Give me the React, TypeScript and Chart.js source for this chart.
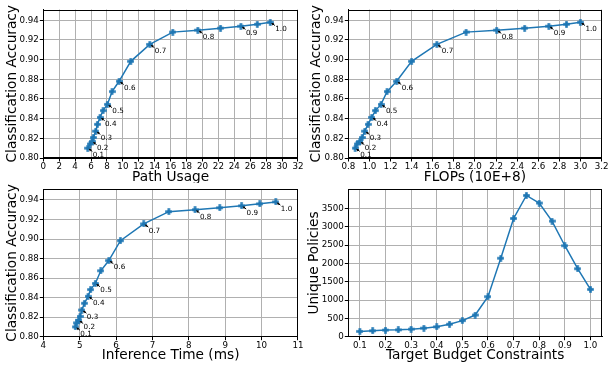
import React, { useEffect, useRef } from 'react';
import { Chart, registerables } from 'chart.js';
Chart.register(...registerables);

const budgets = [0.1, 0.15, 0.2, 0.25, 0.3, 0.35, 0.4, 0.45, 0.5, 0.55, 0.6, 0.65, 0.7, 0.75, 0.8, 0.85, 0.9, 0.95, 1.0];
const accuracy = [0.810, 0.8142, 0.8168, 0.8208, 0.8273, 0.8342, 0.8413, 0.8482, 0.8545, 0.8675, 0.878, 0.8983, 0.9155, 0.928, 0.930, 0.932, 0.934, 0.936, 0.938];
const pathUsage = [5.58, 5.87, 6.12, 6.29, 6.59, 6.80, 7.13, 7.51, 8.05, 8.64, 9.52, 10.99, 13.38, 16.27, 19.42, 22.27, 24.83, 26.89, 28.52];
const flops = [0.865, 0.883, 0.909, 0.931, 0.956, 0.987, 1.022, 1.057, 1.110, 1.167, 1.258, 1.400, 1.639, 1.916, 2.206, 2.471, 2.700, 2.867, 2.999];
const inferenceTime = [4.88, 4.92, 4.97, 5.01, 5.06, 5.13, 5.23, 5.30, 5.43, 5.58, 5.80, 6.12, 6.76, 7.45, 8.17, 8.85, 9.45, 9.95, 10.39];
const uniquePolicies = [144, 162, 180, 188, 206, 233, 269, 341, 440, 592, 1095, 2145, 3231, 3859, 3653, 3159, 2486, 1858, 1292];

const annotationLabels = ['0.1', '0.2', '0.3', '0.4', '0.5', '0.6', '0.7', '0.8', '0.9', '1.0'];
const annotationIndices = [0, 2, 4, 6, 8, 10, 12, 14, 16, 18];

const pathTicks = [0, 2, 4, 6, 8, 10, 12, 14, 16, 18, 20, 22, 24, 26, 28, 30, 32];
const flopsTicks = [0.8, 1.0, 1.2, 1.4, 1.6, 1.8, 2.0, 2.2, 2.4, 2.6, 2.8, 3.0, 3.2];
const timeTicks = [4, 5, 6, 7, 8, 9, 10, 11];
const budgetTicks = [0.1, 0.2, 0.3, 0.4, 0.5, 0.6, 0.7, 0.8, 0.9, 1.0];
const accTicks = [0.80, 0.82, 0.84, 0.86, 0.88, 0.90, 0.92, 0.94];
const policyTicks = [0, 500, 1000, 1500, 2000, 2500, 3000, 3500];

const FONT = 'DejaVu Sans';
const BLUE = '#1f77b4';

function makeMarker() {
  const c = document.createElement('canvas');
  c.width = 7;
  c.height = 7;
  const g = c.getContext('2d')!;
  g.fillStyle = BLUE;
  g.fillRect(2.2, 0.2, 2.6, 6.6);
  g.fillRect(0.2, 2.2, 6.6, 2.6);
  return c;
}

const framePlugin = {
  id: 'frame',
  afterDatasetsDraw(chart: any) {
    const { ctx, chartArea } = chart;
    ctx.save();
    ctx.strokeStyle = '#000';
    ctx.lineWidth = 1;
    const l = Math.round(chartArea.left) + 0.5;
    const r = Math.round(chartArea.right) - 0.5;
    const t = Math.round(chartArea.top) + 0.5;
    const b = Math.round(chartArea.bottom) - 0.5;
    ctx.strokeRect(l, t, r - l, b - t);
    ctx.restore();
  },
};

const annPlugin = {
  id: 'ann',
  afterDraw(chart: any, _args: any, opts: any) {
    if (!opts || !opts.show) return;
    const meta = chart.getDatasetMeta(0);
    const ctx = chart.ctx;
    ctx.save();
    ctx.fillStyle = '#000';
    ctx.strokeStyle = '#000';
    ctx.lineWidth = 1;
    ctx.font = `7.2px "${FONT}"`;
    ctx.textBaseline = 'middle';
    ctx.textAlign = 'left';
    annotationIndices.forEach((idx, i) => {
      const el = meta.data[idx];
      const x = el.x;
      const y = el.y;
      const x0 = x + 4.6, y0 = y + 3.2;
      const x1 = x + 1.0, y1 = y + 0.6;
      const dx = x1 - x0, dy = y1 - y0;
      const len = Math.hypot(dx, dy);
      const ux = dx / len, uy = dy / len;
      const hl = 2.6, hw = 1.4;
      ctx.beginPath();
      ctx.moveTo(x0, y0);
      ctx.lineTo(x1 - ux * hl * 0.6, y1 - uy * hl * 0.6);
      ctx.stroke();
      ctx.beginPath();
      ctx.moveTo(x1, y1);
      ctx.lineTo(x1 - ux * hl - uy * hw, y1 - uy * hl + ux * hw);
      ctx.lineTo(x1 - ux * hl + uy * hw, y1 - uy * hl - ux * hw);
      ctx.closePath();
      ctx.fill();
      ctx.fillText(annotationLabels[i], x + 5, y + 7);
    });
    ctx.restore();
  },
};

type PanelProps = {
  left: number; top: number; width: number; height: number;
  padTop: number; padRight: number; yW: number; xH: number;
  xs: number[]; ys: number[];
  xMin: number; xMax: number; xTicks: number[]; xDec: number;
  yMin: number; yMax: number; yTicks: number[]; yDec: number;
  xTitle: string; yTitle: string; xTitlePad: number; yTitlePad: number;
  annotate: boolean;
};

function Panel(p: PanelProps) {
  const ref = useRef<HTMLCanvasElement>(null);
  useEffect(() => {
    const tickFont = { family: FONT, size: 8.7 };
    const titleFont = { family: FONT, size: 13.7, lineHeight: 1 };
    const grid = { color: '#b0b0b0', lineWidth: 1, tickLength: 3.5, tickColor: '#000', drawTicks: true };
    const border = { display: true, color: '#000', width: 1 };
    const chart = new Chart(ref.current!, {
      type: 'scatter',
      data: {
        datasets: [{
          data: p.xs.map((x, i) => ({ x, y: p.ys[i] })),
          showLine: true,
          borderColor: BLUE,
          backgroundColor: BLUE,
          borderWidth: 1.5,
          pointStyle: makeMarker() as any,
          pointRadius: 3.5,
          tension: 0,
        }],
      },
      options: {
        animation: false,
        responsive: false,
        devicePixelRatio: 1,
        layout: { padding: { top: p.padTop, right: p.padRight, left: 0, bottom: 0 } },
        plugins: {
          legend: { display: false },
          tooltip: { enabled: false },
          ann: { show: p.annotate },
        } as any,
        scales: {
          x: {
            type: 'linear',
            min: p.xMin,
            max: p.xMax,
            afterBuildTicks: (s: any) => { s.ticks = p.xTicks.map((v) => ({ value: v })); },
            afterFit: (s: any) => { s.height = p.xH; },
            ticks: {
              font: tickFont, color: '#000', padding: 0.5, autoSkip: false, maxRotation: 0, minRotation: 0,
              callback: (v: any) => Number(v).toFixed(p.xDec),
            },
            grid, border,
            title: { display: true, text: p.xTitle, font: titleFont, color: '#000', padding: { top: 0, bottom: p.xTitlePad } },
          },
          y: {
            type: 'linear',
            min: p.yMin,
            max: p.yMax,
            afterBuildTicks: (s: any) => { s.ticks = p.yTicks.map((v) => ({ value: v })); },
            afterFit: (s: any) => { s.width = p.yW; },
            ticks: {
              font: tickFont, color: '#000', padding: 1, autoSkip: false,
              callback: (v: any) => Number(v).toFixed(p.yDec),
            },
            grid, border,
            title: { display: true, text: p.yTitle, font: titleFont, color: '#000', padding: { top: p.yTitlePad, bottom: 0 } },
          },
        },
      },
      plugins: [framePlugin, annPlugin],
    } as any);
    return () => chart.destroy();
  }, []);
  return (
    <canvas
      ref={ref}
      width={p.width}
      height={p.height}
      style={{ position: 'absolute', left: p.left, top: p.top, width: p.width, height: p.height }}
    />
  );
}

export default function App() {
  return (
    <div style={{ position: 'fixed', left: 0, top: 0, width: 609, height: 366, background: '#fff', overflow: 'hidden' }}>
      <Panel left={0} top={0} width={304} height={183} padTop={9.5} padRight={6} yW={43.3} xH={25}
        xs={pathUsage} ys={accuracy} xMin={0} xMax={32} xTicks={pathTicks} xDec={0}
        yMin={0.8} yMax={0.951} yTicks={accTicks} yDec={2}
        xTitle="Path Usage" yTitle="Classification Accuracy" xTitlePad={-1.5} yTitlePad={5.9} annotate={true} />
      <Panel left={304} top={0} width={305} height={183} padTop={9.5} padRight={7} yW={44.3} xH={25}
        xs={flops} ys={accuracy} xMin={0.8} xMax={3.2} xTicks={flopsTicks} xDec={1}
        yMin={0.8} yMax={0.951} yTicks={accTicks} yDec={2}
        xTitle="FLOPs (10E+8)" yTitle="Classification Accuracy" xTitlePad={-1.5} yTitlePad={5.9} annotate={true} />
      <Panel left={0} top={183} width={304} height={183} padTop={4} padRight={6} yW={43.3} xH={29.3}
        xs={inferenceTime} ys={accuracy} xMin={4} xMax={11} xTicks={timeTicks} xDec={0}
        yMin={0.8} yMax={0.951} yTicks={accTicks} yDec={2}
        xTitle="Inference Time (ms)" yTitle="Classification Accuracy" xTitlePad={4} yTitlePad={5.9} annotate={true} />
      <Panel left={304} top={183} width={305} height={183} padTop={4} padRight={7} yW={44.3} xH={29.3}
        xs={budgets} ys={uniquePolicies} xMin={0.055} xMax={1.045} xTicks={budgetTicks} xDec={1}
        yMin={0} yMax={4030} yTicks={policyTicks} yDec={0}
        xTitle="Target Budget Constraints" yTitle="Unique Policies" xTitlePad={4} yTitlePad={3.6} annotate={false} />
    </div>
  );
}
